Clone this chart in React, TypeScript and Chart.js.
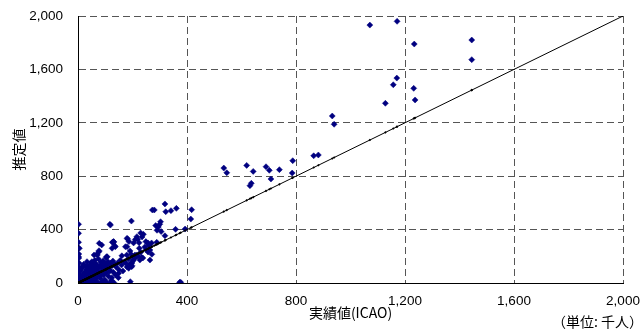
import React, { useEffect, useRef } from "react";
import { Chart, registerables } from "chart.js";

Chart.register(...registerables);

// 実績値 (ICAO) — x
const actualValues: number[] = [
  1071, 1171, 1234, 1445, 1445, 1170, 1157, 1232, 1237, 1128, 933, 940,
  882, 865, 788, 786, 739, 708, 702, 690, 643, 636, 631, 619, 546, 535,
  417, 414, 393, 373, 377, 361, 358, 341, 322, 319, 319, 303, 300, 295,
  290, 285, 305, 280, 273, 289, 264, 257, 257, 238, 240, 235, 230, 209,
  216, 204, 196, 204, 210, 216, 198, 205, 186, 198, 180, 180, 187, 174,
  161, 149, 192, 125, 132, 137, 131, 125, 130, 119, 117, 126, 135, 107,
  105, 103, 77, 69, 71, 77, 51, 249, 219, 224, 130, 182, 256, 264, 271,
  191, 179, 197, 227, 234, 121, 78, 87, 59, 103,
  2, 2, 2, 3, 2, 2, 3, 2, 4, 3, 1, 2, 5,
  0, 1, 2, 3, 5, 6, 8, 10, 10, 12, 14, 15, 16, 18, 20, 20, 22, 24, 25,
  26, 28, 30, 30, 32, 34, 35, 36, 38, 40, 40, 42, 44, 45, 46, 48, 50, 50,
  52, 55, 55, 58, 60, 60, 62, 64, 66, 68, 70, 72, 74, 75, 78, 80, 82, 84,
  86, 88, 90, 92, 94, 96, 98, 100, 100, 104, 106, 108, 110, 112, 115, 118,
  120, 122, 125, 128, 130, 135, 138, 140, 145, 148, 150, 155, 160, 165,
  170, 175, 180, 185, 190, 195, 200, 210, 220, 225, 230, 245, 250, 260, 270,
  4, 7, 9, 12, 15, 18, 21, 24, 27, 30, 33, 36, 39, 43, 47, 51, 56, 61, 65,
  70, 76, 82, 88, 95, 101, 109, 116, 124, 9, 19, 29, 38, 48, 57, 67, 85,
];

// 推定値 — y
const estimatedValues: number[] = [
  1932, 1960, 1790, 1820, 1673, 1535, 1485, 1458, 1371, 1346, 1251, 1189,
  959, 953, 916, 824, 849, 779, 844, 871, 836, 747, 729, 881, 826, 861,
  549, 479, 404, 5, 5, 559, 402, 542, 534, 592, 354, 459, 440, 420,
  395, 430, 385, 547, 547, 305, 172, 232, 300, 187, 365, 345, 375, 210,
  210, 172, 464, 300, 325, 347, 150, 187, 110, 130, 335, 272, 310, 272,
  204, 73, 10, 10, 2, 272, 309, 260, 310, 434, 440, 305, 277, 197,
  197, 190, 242, 215, 210, 235, 160, 310, 327, 302, 302, 330, 297, 247, 215,
  240, 210, 122, 172, 192, 5, 297, 285, 210, 147,
  440, 372, 305, 217, 197, 122, 97, 52, 150, 187, 75, 20, 260,
  0, 3, 8, 1, 12, 4, 20, 6, 30, 15, 2, 45, 25, 10, 60, 35, 5, 18, 80,
  50, 28, 12, 100, 65, 40, 2, 130, 22, 85, 55, 8, 110, 35, 70, 150, 18, 95,
  45, 125, 3, 60, 80, 30, 170, 110, 12, 140, 50, 95, 2, 180, 70, 125, 35, 155,
  90, 8, 110, 165, 60, 135, 25, 100, 145, 75, 3, 130, 160, 50, 120, 95,
  150, 20, 130, 165, 80, 140, 60, 120, 150, 40, 100, 170, 135, 90,
  160, 150, 120, 180, 140, 215, 165, 190, 200, 260, 230, 270, 250, 280, 300,
  40, 65, 90, 28, 115, 55, 140, 75, 38, 120, 160, 85, 105, 20, 135, 62, 110,
  145, 30, 92, 118, 55, 138, 70, 120, 150, 88, 40, 100, 130, 75, 10, 95, 45,
];

const axisMin = 0;
const axisMax = 2000;
const axisStep = 400;

const xTitle = "実績値(ICAO)";
const yTitle = "推定値";
const unitLabel = "（単位: 千人）";

const CJK = "'Noto Sans CJK JP', 'Liberation Sans', sans-serif";
const LATIN = "'Liberation Sans', Arial, sans-serif";

export default function App() {
  const canvasRef = useRef<HTMLCanvasElement | null>(null);

  useEffect(() => {
    const canvas = canvasRef.current;
    if (!canvas) return;

    const scatterData = actualValues.map((x, i) => ({ x, y: estimatedValues[i] }));
    const diagonal = [axisMin, ...[...actualValues].sort((a, b) => a - b), axisMax].map((v) => ({ x: v, y: v }));

    const unitPlugin = {
      id: "unitLabel",
      afterDraw(chart: any) {
        const ctx = chart.ctx;
        ctx.save();
        ctx.font = `14px ${CJK}`;
        ctx.fillStyle = "#000";
        ctx.textAlign = "right";
        ctx.textBaseline = "middle";
        ctx.fillText(unitLabel, 643, 322);
        ctx.restore();
      },
    };

    const gridColor = "#555555";
    const tickFont = { family: LATIN, size: 13.5 };

    const chart = new Chart(canvas, {
      type: "scatter",
      data: {
        datasets: [
          {
            label: "実績値",
            type: "line",
            data: diagonal,
            borderColor: "#000",
            borderWidth: 1,
            pointStyle: "rectRot",
            pointRadius: 1.3,
            pointBackgroundColor: "#000",
            pointBorderWidth: 0,
            fill: false,
            tension: 0,
            order: 0,
          } as any,
          {
            label: "推定値",
            data: scatterData,
            pointStyle: "rectRot",
            pointRadius: 3,
            backgroundColor: "#000080",
            borderColor: "#000080",
            borderWidth: 0.5,
            order: 1,
          },
        ],
      },
      options: {
        animation: false,
        responsive: true,
        maintainAspectRatio: false,
        layout: { padding: { left: 0, right: 20, top: 16, bottom: 0 } },
        plugins: {
          legend: { display: false },
          tooltip: { enabled: false },
        },
        scales: {
          x: {
            type: "linear",
            min: axisMin,
            max: axisMax,
            ticks: {
              stepSize: axisStep,
              color: "#000",
              font: tickFont,
              padding: 2,
              maxRotation: 0,
            },
            grid: { color: gridColor, lineWidth: 1, drawTicks: true, tickLength: 8, tickColor: "rgba(0,0,0,0)" },
            border: { display: true, color: "#000", width: 1, dash: [7, 4] },
            title: {
              display: true,
              text: xTitle,
              color: "#000",
              font: { family: CJK, size: 14, lineHeight: 1.2 },
              padding: { top: 0, bottom: 14 },
            },
            afterFit: (scale: any) => {
              scale.height = 52;
            },
          },
          y: {
            type: "linear",
            min: axisMin,
            max: axisMax,
            ticks: {
              stepSize: axisStep,
              color: "#000",
              font: tickFont,
              padding: 3,
            },
            grid: { color: gridColor, lineWidth: 1, drawTicks: true, tickLength: 12, tickColor: "rgba(0,0,0,0)" },
            border: { display: true, color: "#000", width: 1, dash: [7, 4] },
            title: {
              display: true,
              text: yTitle,
              color: "#000",
              font: { family: CJK, size: 14, lineHeight: 1.2 },
              padding: { top: 10, bottom: 0 },
            },
            afterFit: (scale: any) => {
              scale.width = 78;
            },
          },
        },
      },
      plugins: [unitPlugin],
    });

    return () => chart.destroy();
  }, []);

  return (
    <div style={{ position: "fixed", left: 0, top: 0, width: 643, height: 335, background: "#fff" }}>
      <canvas ref={canvasRef} />
    </div>
  );
}
